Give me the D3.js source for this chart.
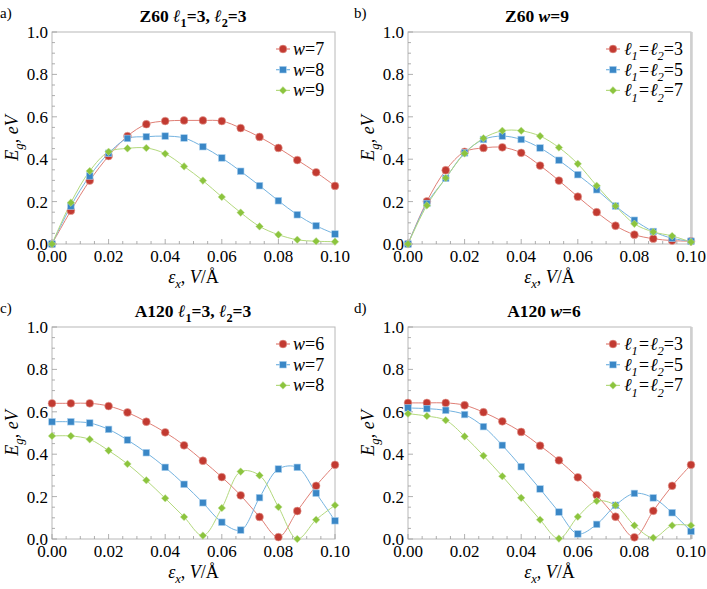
<!DOCTYPE html>
<html>
<head>
<meta charset="utf-8">
<script src="https://cdn.jsdelivr.net/npm/d3@7"></script>
<style>
  body { margin: 0; background: #fff; }
  svg text { font-family: "Liberation Serif", "DejaVu Serif", serif; }
</style>
</head>
<body>
<svg id="chart" width="707" height="589" font-family="Liberation Serif, DejaVu Serif, serif"></svg>
<script>
// field values (V/Å), same grid in all four panels
const xValues = [0, 0.00667, 0.01333, 0.02, 0.02667, 0.03333, 0.04, 0.04667, 0.05333, 0.06, 0.06667, 0.07333, 0.08, 0.08667, 0.09333, 0.1];

// a) Z60, l1=3, l2=3
const z60_w7 = [0, 0.157, 0.299, 0.415, 0.509, 0.565, 0.580, 0.583, 0.583, 0.580, 0.547, 0.505, 0.453, 0.396, 0.338, 0.274];
const z60_w8 = [0, 0.179, 0.321, 0.428, 0.498, 0.506, 0.509, 0.500, 0.459, 0.406, 0.343, 0.275, 0.204, 0.138, 0.086, 0.047];
const z60_w9 = [0, 0.195, 0.344, 0.435, 0.451, 0.453, 0.426, 0.366, 0.299, 0.222, 0.148, 0.083, 0.044, 0.020, 0.013, 0.011];

// b) Z60, w=9
const z60w9_l3 = [0, 0.201, 0.348, 0.435, 0.453, 0.456, 0.430, 0.370, 0.299, 0.223, 0.150, 0.086, 0.044, 0.025, 0.016, 0.013];
const z60w9_l5 = [0, 0.191, 0.310, 0.430, 0.493, 0.509, 0.493, 0.453, 0.395, 0.327, 0.256, 0.179, 0.112, 0.059, 0.027, 0.013];
const z60w9_l7 = [0, 0.182, 0.311, 0.427, 0.499, 0.534, 0.534, 0.509, 0.455, 0.378, 0.275, 0.179, 0.095, 0.057, 0.038, 0.009];

// c) A120, l1=3, l2=3
const a120_w6 = [0.640, 0.640, 0.640, 0.627, 0.597, 0.553, 0.503, 0.442, 0.369, 0.292, 0.206, 0.104, 0.009, 0.132, 0.251, 0.350];
const a120_w7 = [0.553, 0.553, 0.547, 0.517, 0.467, 0.407, 0.338, 0.258, 0.171, 0.079, 0.042, 0.195, 0.330, 0.338, 0.216, 0.086];
const a120_w8 = [0.486, 0.486, 0.470, 0.417, 0.354, 0.277, 0.192, 0.104, 0.016, 0.146, 0.318, 0.300, 0.151, 0.000, 0.091, 0.159];

// d) A120, w=6
const a120w6_l3 = [0.642, 0.642, 0.642, 0.631, 0.598, 0.555, 0.505, 0.440, 0.371, 0.291, 0.207, 0.105, 0.008, 0.133, 0.251, 0.350];
const a120w6_l5 = [0.618, 0.615, 0.607, 0.587, 0.530, 0.442, 0.341, 0.236, 0.127, 0.024, 0.069, 0.159, 0.215, 0.194, 0.124, 0.036];
const a120w6_l7 = [0.591, 0.580, 0.560, 0.484, 0.393, 0.296, 0.194, 0.091, 0.002, 0.105, 0.179, 0.159, 0.064, 0.006, 0.064, 0.064];

const xTicks = [0, 0.02, 0.04, 0.06, 0.08, 0.1];
const yTicks = [0, 0.2, 0.4, 0.6, 0.8, 1.0];

const markColor = ["#c23a31", "#3a87c6", "#8cc43e"];
const lineColor = ["#e07f76", "#74b3e0", "#b3d97d"];
const markType = ["circle", "square", "diamond"];

const FONT = "Liberation Serif, DejaVu Serif, serif";
const svg = d3.select("#chart");

// text with italic / subscript pieces
function rich(sel, segs, size) {
    var shift = 0;
    segs.forEach(s => {
        const sub = s.sub ? 0.3 * size : 0;
        sel.append("tspan")
            .attr("dy", sub - shift)
            .attr("font-size", s.sub ? size * 0.7 : size)
            .attr("font-style", s.it ? "italic" : "normal")
            .text(s.t);
        shift = sub;
    });
}

function marker(g, type, cx, cy, color) {
    if (type == "circle") {
        g.append("circle").attr("cx", cx).attr("cy", cy).attr("r", 3.9)
            .attr("fill", color).attr("stroke", "#e6a29b").attr("stroke-width", 0.6);
    } else if (type == "square") {
        g.append("rect").attr("x", cx - 3.3).attr("y", cy - 3.3)
            .attr("width", 6.6).attr("height", 6.6)
            .attr("fill", color).attr("stroke", "#a9d0ee").attr("stroke-width", 0.6);
    } else {
        g.append("path").attr("transform", "translate(" + cx + "," + cy + ")")
            .attr("d", "M0,-3.8L3.8,0L0,3.8L-3.8,0Z")
            .attr("fill", color).attr("stroke", "#c9e4a6").attr("stroke-width", 0.5);
    }
}

function drawPanel(p) {
    const x = d3.scaleLinear().domain([0, 0.1]).range([p.left, p.left + 283]);
    const y = d3.scaleLinear().domain([0, 1]).range([p.top + 212, p.top]);
    const g = svg.append("g").attr("font-family", FONT);

    // frame
    g.append("rect")
        .attr("x", x(0)).attr("y", y(1))
        .attr("width", x(0.1) - x(0)).attr("height", y(0) - y(1))
        .attr("fill", "none").attr("stroke", "#b8b8b8").attr("stroke-width", 1);
    if (p.thickRight) {
        g.append("line").attr("x1", x(0.1) + 0.5).attr("x2", x(0.1) + 0.5)
            .attr("y1", y(1)).attr("y2", y(0))
            .attr("stroke", "#cfcfcf").attr("stroke-width", 2.5);
    }

    // ticks (pointing inward)
    const tickCol = "#9a9a9a";
    d3.range(0, 0.1001, 0.005).forEach(v => {
        const major = Math.abs(v / 0.02 - Math.round(v / 0.02)) < 1e-6;
        g.append("line").attr("x1", x(v)).attr("x2", x(v))
            .attr("y1", y(0)).attr("y2", y(0) - (major ? 5 : 3))
            .attr("stroke", tickCol).attr("stroke-width", 0.8);
    });
    d3.range(0, 1.0001, 0.05).forEach(v => {
        const major = Math.abs(v / 0.2 - Math.round(v / 0.2)) < 1e-6;
        g.append("line").attr("y1", y(v)).attr("y2", y(v))
            .attr("x1", x(0)).attr("x2", x(0) + (major ? 5 : 3))
            .attr("stroke", tickCol).attr("stroke-width", 0.8);
    });

    xTicks.forEach(v => {
        g.append("text").attr("x", x(v)).attr("y", y(0) + 18)
            .attr("text-anchor", "middle").attr("font-size", 17)
            .text(d3.format(".2f")(v));
    });
    yTicks.forEach(v => {
        g.append("text").attr("x", x(0) - 4).attr("y", y(v) + 6)
            .attr("text-anchor", "end").attr("font-size", 17)
            .text(d3.format(".1f")(v));
    });

    // axis labels
    const yl = g.append("text")
        .attr("transform", "translate(" + (x(0) - 34) + "," + (y(0.5)) + ") rotate(-90)")
        .attr("text-anchor", "middle");
    rich(yl, [{t: "E", it: true}, {t: "g", it: true, sub: true}, {t: ", eV", it: true}], 18);

    const xl = g.append("text")
        .attr("x", x(0.05)).attr("y", y(0) + 39)
        .attr("text-anchor", "middle");
    rich(xl, [{t: "ε", it: true}, {t: "x", it: true, sub: true}, {t: ", "}, {t: "V", it: true}, {t: "/Å"}], 18);

    // panel letter + title
    g.append("text").attr("x", p.letterX).attr("y", p.top - 14)
        .attr("font-size", 15).text(p.letter);
    const tt = g.append("text").attr("x", p.titleX).attr("y", p.top - 10)
        .attr("text-anchor", "middle").attr("font-weight", "bold");
    rich(tt, p.title, 17.5);

    // curves
    const clipId = "clip" + p.letter.replace(")", "");
    svg.append("clipPath").attr("id", clipId).append("rect")
        .attr("x", x(0)).attr("y", y(1)).attr("width", x(0.1) - x(0)).attr("height", y(0) - y(1));

    const line = d3.line()
        .x((d, i) => x(xValues[i]))
        .y(d => y(d))
        .curve(d3.curveCatmullRom.alpha(0.5));

    p.series.forEach((s, k) => {
        g.append("path").datum(s)
            .attr("clip-path", "url(#" + clipId + ")")
            .attr("fill", "none")
            .attr("stroke", lineColor[k])
            .attr("stroke-width", 1)
            .attr("d", line);
    });
    p.series.forEach((s, k) => {
        s.forEach((v, i) => marker(g, markType[k], x(xValues[i]), y(v), markColor[k]));
    });

    // legend
    p.legend.forEach((lab, k) => {
        const ly = p.top + 17 + k * 20.7;
        g.append("line").attr("x1", p.legX - 7).attr("x2", p.legX + 7)
            .attr("y1", ly).attr("y2", ly)
            .attr("stroke", lineColor[k]).attr("stroke-width", 1.2);
        marker(g, markType[k], p.legX, ly, markColor[k]);
        const t = g.append("text").attr("x", p.legX + p.legGap).attr("y", ly + 6);
        rich(t, lab, 18);
    });
}

const wLab = n => [{t: "w", it: true}, {t: "=" + n}];
const lLab = n => [{t: "ℓ", it: true}, {t: "1", it: true, sub: true}, {t: "=ℓ", it: true},
                   {t: "2", it: true, sub: true}, {t: "=" + n}];
const lTitle = name => [{t: name + " "}, {t: "ℓ", it: true}, {t: "1", sub: true}, {t: "=3, "},
                        {t: "ℓ", it: true}, {t: "2", sub: true}, {t: "=3"}];

drawPanel({
    letter: "a)", letterX: 0, left: 52, top: 32, titleX: 193,
    title: lTitle("Z60"),
    series: [z60_w7, z60_w8, z60_w9],
    legend: [wLab(7), wLab(8), wLab(9)],
    legX: 283, legGap: 10
});
drawPanel({
    letter: "b)", letterX: 354, left: 408, top: 32, titleX: 537, thickRight: true,
    title: [{t: "Z60 "}, {t: "w", it: true}, {t: "=9"}],
    series: [z60w9_l3, z60w9_l5, z60w9_l7],
    legend: [lLab(3), lLab(5), lLab(7)],
    legX: 613, legGap: 11
});
drawPanel({
    letter: "c)", letterX: 0, left: 52, top: 327, titleX: 193,
    title: lTitle("A120"),
    series: [a120_w6, a120_w7, a120_w8],
    legend: [wLab(6), wLab(7), wLab(8)],
    legX: 283, legGap: 10
});
drawPanel({
    letter: "d)", letterX: 354, left: 408, top: 327, titleX: 544, thickRight: true,
    title: [{t: "A120 "}, {t: "w", it: true}, {t: "=6"}],
    series: [a120w6_l3, a120w6_l5, a120w6_l7],
    legend: [lLab(3), lLab(5), lLab(7)],
    legX: 613, legGap: 11
});
</script>
</body>
</html>
